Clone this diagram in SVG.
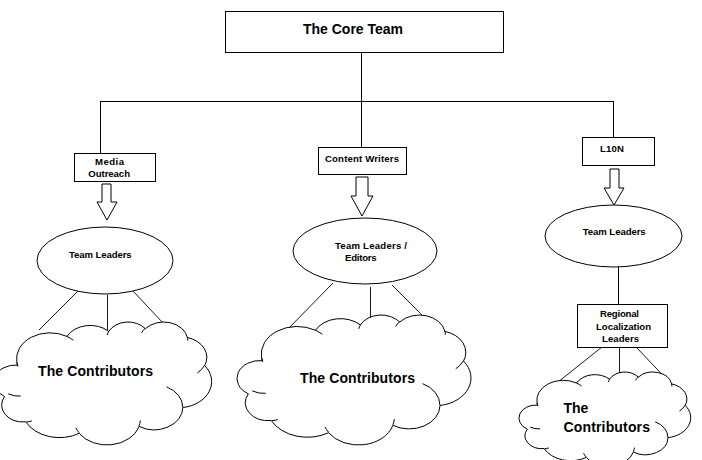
<svg xmlns="http://www.w3.org/2000/svg" xmlns:xlink="http://www.w3.org/1999/xlink" width="702" height="460" viewBox="0 0 702 460">
<style>
.box{fill:#fff;stroke:#000;stroke-width:1}
.ell{fill:#fff;stroke:#000;stroke-width:1}
.ln{fill:none;stroke:#000;stroke-width:1}
.thin{fill:none;stroke:#000;stroke-width:0.9}
.arr{fill:#fff;stroke:#000;stroke-width:1;stroke-linejoin:miter}
.cl{fill:#fff;stroke:#000;stroke-width:1;vector-effect:non-scaling-stroke}
.ci{fill:none;stroke:#000;stroke-width:1;vector-effect:non-scaling-stroke}
.t{font-family:"Liberation Sans",Arial,sans-serif;font-weight:bold;fill:#000}
.s{font-size:9.6px}
.b{font-size:14px}
</style>
<defs>
<g id="cloud">
<path class="cl" d="M39,143.7 A67.53 91.9 0 0 1 140.05,52.02 A53.33 72.67 0 0 1 224.56,34.3 A43.65 59.45 0 0 1 298.34,24.8 A48.57 65.95 0 0 1 383.19,55.76 A53.33 72.73 0 0 1 418.19,154.6 A67.75 92.2 0 0 1 374.04,302.01 A57.85 78.67 0 0 1 285.55,368.11 A67.52 92.15 0 0 1 164.81,392.65 A77.2 105.43 0 0 1 56.97,352.06 A43.6 59.18 0 0 1 14.27,263.36 A43.45 59.45 0 0 1 41.01,152.97 Z"/>
<path class="ci" d="M46.93,261.77 A43.45 59.45 0 0 1 21.6,253.8 M69.28,348.99 A43.6 59.18 0 0 1 58.19,352.81 M164.78,390.9 A67.52 92.15 0 0 1 158.08,373.46 M288.27,347.51 A67.52 92.15 0 0 1 285.61,366.6 M341.29,229.54 A57.85 78.67 0 0 1 373.8,300.89 M417.98,153.54 A53.33 72.73 0 0 1 403.5,180.3 M383.24,54.26 A48.57 65.95 0 0 1 384,66.9 M290.78,39.52 A48.57 65.95 0 0 1 298.2,23.4 M221.41,47.2 A43.65 59.45 0 0 1 224.9,33.59 M140,51.92 A67.53 91.9 0 0 1 153.01,65.41 M41.27,157.89 A67.53 91.9 0 0 1 39.01,143.71"/>
</g>
</defs>
<rect width="702" height="460" fill="#fff"/>
<g id="connectors">
<path class="ln" d="M361.5,52 V101.5 M100.5,101.5 H613.5 M100.5,101 V153 M361.5,101 V147 M613.5,101 V137 M618.5,267 V304"/>
<path class="thin" d="M78,291 L39,330 M107.5,295 V332 M133,291 L163,323 M333,283 L287,330 M370.5,287 V320 M392,285 L422,315 M602,347 L558,382 M619.5,347 V373 M637,348 L674,387"/>
<polygon class="arr" points="102,184 111,184 111,202 117,202 107,220 97,202 102,202"/>
<polygon class="arr" points="356,177 368,177 368,196 373,196 362,216 351,196 356,196"/>
<polygon class="arr" points="610,169 619,169 619,188 624,188 614,205 604,188 610,188"/>
</g>
<g id="core-team">
<rect class="box" x="225.5" y="11.5" width="278" height="41"/>
<text class="t b" x="303" y="33.5" textLength="100">The Core Team</text>
</g>
<g id="media-outreach">
<rect class="box" x="74.5" y="153.5" width="81" height="28"/>
<text class="t s" x="95" y="164.5" textLength="29">Media</text>
<text class="t s" x="88.3" y="177" textLength="41.7">Outreach</text>
</g>
<g id="content-writers">
<rect class="box" x="318.5" y="147.5" width="88" height="27"/>
<text class="t s" x="325" y="162" textLength="74">Content Writers</text>
</g>
<g id="l10n">
<rect class="box" x="582.5" y="137.5" width="72" height="28"/>
<text class="t s" x="600" y="151.5" textLength="24">L10N</text>
</g>
<g id="team-leaders-1">
<ellipse class="ell" cx="105" cy="260.5" rx="68" ry="33.5"/>
<text class="t s" x="69" y="257.5" textLength="62.7">Team Leaders</text>
</g>
<g id="team-leaders-2">
<ellipse class="ell" cx="365" cy="251" rx="72" ry="33"/>
<text class="t s" x="335" y="249" textLength="72">Team Leaders /</text>
<text class="t s" x="345" y="261" textLength="31.7">Editors</text>
</g>
<g id="team-leaders-3">
<ellipse class="ell" cx="613.5" cy="236" rx="68.5" ry="31"/>
<text class="t s" x="582.7" y="235" textLength="63">Team Leaders</text>
</g>
<g id="regional-leaders">
<rect class="box" x="577.5" y="304.5" width="90" height="43"/>
<text class="t s" x="600" y="316.5" textLength="39">Regional</text>
<text class="t s" x="596" y="329.5" textLength="55">Localization</text>
<text class="t s" x="602" y="342" textLength="37">Leaders</text>
</g>
<g id="contributors-1">
<use xlink:href="#cloud" transform="translate(-2.5,321.6) scale(0.4955,0.2846)"/>
<text class="t b" x="38" y="376" textLength="115">The Contributors</text>
</g>
<g id="contributors-2">
<use xlink:href="#cloud" transform="translate(240.8,314.6) scale(0.5326,0.3008)"/>
<text class="t b" x="300" y="382.5" textLength="115">The Contributors</text>
</g>
<g id="contributors-3">
<use xlink:href="#cloud" transform="translate(521.8,371.7) scale(0.3908,0.2184)"/>
<text class="t b" x="563.5" y="412.5">The</text>
<text class="t b" x="563.5" y="431.5" textLength="86.5">Contributors</text>
</g>
</svg>
